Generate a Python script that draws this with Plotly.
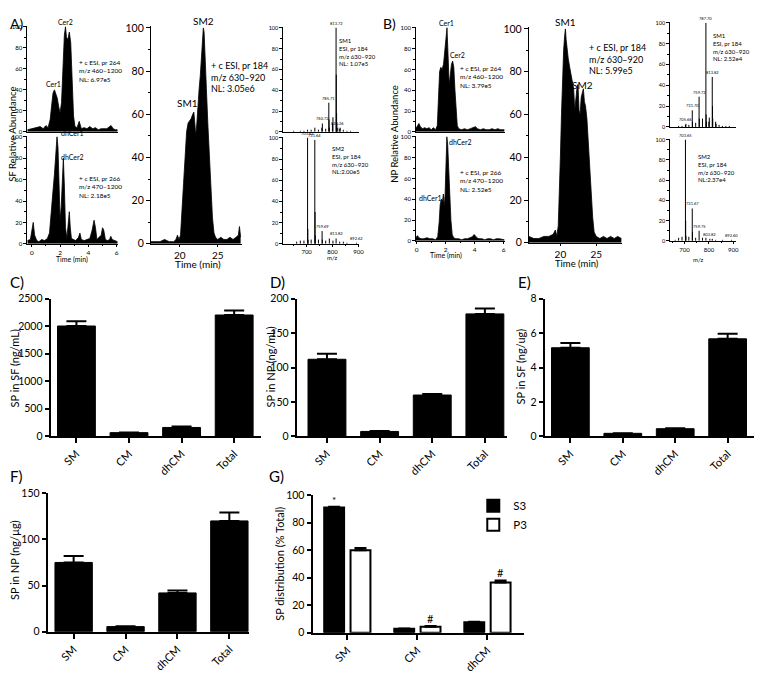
import plotly.graph_objects as go

W, H = 762, 675
OFF = 8  # page body margin: the figure is drawn 8 px in from the window corner
FW, FH = W - OFF, H - OFF
FONT = "Lato"

# ---------------- chromatograms (time in min, relative abundance) ----------------
SF_CER_T = [-0.3, 0.0, 0.2, 0.4, 0.6, 0.8, 1.0, 1.15, 1.3, 1.4, 1.5, 1.6, 1.7, 1.8, 1.9, 2.0, 2.1, 2.2,
            2.3, 2.38, 2.45, 2.55, 2.65, 2.75, 2.85, 2.95, 3.05, 3.2, 3.35, 3.5, 3.7, 3.9, 4.1, 4.3, 4.5,
            4.7, 4.9, 5.1, 5.3, 5.5, 5.6, 5.75, 5.9, 6.05]
SF_CER_Y = [2, 3, 3, 4, 5, 3, 6, 4, 12, 25, 37, 40, 36, 32, 24, 18, 28, 62, 92, 100, 90, 88, 95, 85,
            45, 15, 5, 4, 10, 3, 4, 3, 5, 3, 4, 2, 3, 3, 3, 5, 6, 3, 2, 2]

SF_DH_T = [-0.3, -0.1, 0.0, 0.1, 0.2, 0.35, 0.5, 0.7, 0.9, 1.1, 1.25, 1.4, 1.5, 1.6, 1.7, 1.78, 1.85,
           1.92, 2.0, 2.08, 2.16, 2.23, 2.3, 2.38, 2.48, 2.58, 2.65, 2.72, 2.8, 2.95, 3.1, 3.3, 3.4, 3.5,
           3.7, 3.9, 4.1, 4.25, 4.4, 4.5, 4.6, 4.75, 4.9, 5.0, 5.08, 5.2, 5.35, 5.5, 5.58, 5.68, 5.85, 6.05]
SF_DH_Y = [3, 4, 12, 20, 8, 3, 2, 4, 3, 5, 10, 30, 50, 65, 85, 100, 90, 55, 22, 35, 70, 80, 55, 15, 5,
           22, 30, 15, 5, 4, 3, 6, 10, 4, 3, 4, 5, 12, 22, 15, 4, 6, 8, 15, 13, 4, 3, 4, 7, 4, 3, 2]

SF_SM_T = [16.2, 16.8, 17.4, 18.0, 18.6, 19.2, 19.5, 19.7, 19.9, 20.1, 20.3, 20.5, 20.7, 20.9, 21.1,
           21.3, 21.5, 21.7, 21.85, 22.0, 22.1, 22.25, 22.4, 22.55, 22.7, 22.85, 23.0, 23.1, 23.2, 23.35,
           23.5, 23.7, 23.9, 24.1, 24.3, 24.5, 24.7, 25.0, 25.4, 25.8, 26.2, 26.6, 27.0, 27.4, 27.7,
           27.85, 28.0]
SF_SM_Y = [1, 1, 1, 2, 1, 1, 2, 4, 2, 4, 14, 28, 40, 52, 56, 57, 58, 60, 61, 55, 50, 56, 66, 72, 78, 85,
           93, 100, 98, 88, 72, 55, 40, 25, 12, 5, 3, 2, 3, 2, 2, 3, 2, 3, 4, 8, 3]

NP_CER_T = [-0.07, 0.05, 0.15, 0.25, 0.4, 0.55, 0.7, 0.85, 1.0, 1.15, 1.3, 1.42, 1.5, 1.58, 1.66, 1.75,
            1.85, 1.95, 2.02, 2.09, 2.16, 2.24, 2.32, 2.4, 2.48, 2.56, 2.64, 2.72, 2.8, 2.9, 3.1, 3.3,
            3.5, 3.7, 3.9, 4.05, 4.2, 4.4, 4.6, 4.8, 5.0, 5.2, 5.4, 5.6, 5.8, 6.05]
NP_CER_Y = [3, 6, 8, 5, 3, 4, 3, 4, 2, 4, 2, 6, 30, 58, 62, 60, 65, 80, 92, 100, 75, 45, 55, 65, 68, 62,
            40, 15, 6, 3, 2, 3, 2, 3, 4, 5, 3, 2, 3, 2, 2, 3, 2, 3, 2, 2]

NP_DH_T = [-0.07, 0.05, 0.15, 0.3, 0.5, 0.7, 0.9, 1.1, 1.3, 1.45, 1.55, 1.62, 1.7, 1.78, 1.84, 1.9,
           1.96, 2.02, 2.08, 2.14, 2.2, 2.28, 2.36, 2.45, 2.55, 2.7, 2.9, 3.1, 3.3, 3.5, 3.7, 3.85, 3.95,
           4.05, 4.15, 4.3, 4.5, 4.7, 4.9, 5.1, 5.3, 5.5, 5.7, 5.9, 6.05]
NP_DH_Y = [3, 5, 3, 2, 2, 3, 2, 2, 1, 4, 18, 35, 40, 38, 45, 32, 45, 75, 100, 92, 70, 45, 20, 6, 3, 2, 2,
           1, 2, 2, 3, 4, 6, 5, 3, 2, 2, 1, 2, 2, 1, 2, 2, 1, 1]

NP_SM_T = [15.6, 16.3, 17.0, 17.7, 18.4, 19.0, 19.3, 19.5, 19.7, 19.85, 20.0, 20.15, 20.3, 20.45, 20.6,
           20.7, 20.8, 20.95, 21.1, 21.3, 21.5, 21.7, 21.85, 22.0, 22.15, 22.3, 22.45, 22.6, 22.75, 22.9,
           23.05, 23.2, 23.35, 23.5, 23.7, 23.9, 24.1, 24.3, 24.5, 24.7, 25.0, 25.5, 26.0, 26.5, 27.0,
           27.5, 28.0, 28.5]
NP_SM_Y = [3, 2, 2, 3, 3, 4, 6, 3, 8, 20, 40, 60, 78, 90, 97, 100, 95, 90, 86, 82, 78, 74, 72, 62, 68,
           72, 74, 62, 60, 68, 70, 72, 66, 64, 58, 45, 32, 22, 12, 5, 3, 2, 3, 2, 3, 2, 3, 2]

# ---------------- mass spectra (m/z, relative abundance) ----------------
SF_SM1_MZ = [650, 675.6, 689.6, 703.6, 717.6, 731.7, 745.6, 758.7, 760.72, 773.7, 785.71, 786.7, 787.7,
             799.7, 801.7, 813.72, 814.7, 815.7, 816.7, 820.26, 827.7, 829.7, 841.7, 855.7, 869.7]
SF_SM1_I = [1, 1, 1, 2, 2, 4, 2, 4, 8, 3, 28, 12, 4, 8, 14, 100, 55, 18, 8, 4, 3, 4, 2, 1, 1]
SF_SM1_LABELS = ["813.72", "785.71", "760.72", "820.26"]

SF_SM2_MZ = [661.6, 675.6, 689.6, 703.62, 704.6, 705.6, 717.6, 731.64, 732.6, 733.6, 745.6, 759.69,
             760.7, 773.7, 787.7, 801.7, 813.82, 827.7, 841.7, 855.7, 892.62]
SF_SM2_I = [2, 3, 3, 100, 14, 4, 4, 98, 30, 8, 4, 12, 4, 3, 5, 3, 5, 2, 2, 1, 1]
SF_SM2_LABELS = ["703.62", "731.64", "759.69", "813.82", "892.62"]

NP_SM1_MZ = [675.6, 689.6, 703.6, 705.66, 717.6, 731.70, 732.7, 745.7, 759.72, 760.7, 773.7, 787.70,
             788.7, 789.7, 799.7, 801.7, 813.82, 814.8, 815.8, 827.7, 829.7, 841.7, 855.7, 869.7, 883.7]
NP_SM1_I = [1, 1, 2, 3, 2, 16, 5, 4, 29, 8, 8, 100, 12, 5, 5, 9, 48, 20, 8, 5, 3, 2, 1, 1, 1]
NP_SM1_LABELS = ["787.70", "813.82", "759.72", "731.70", "705.66"]

NP_SM2_MZ = [661.6, 675.6, 689.6, 703.65, 704.6, 705.6, 717.6, 731.67, 732.6, 745.6, 759.75, 773.7,
             787.7, 803.82, 813.8, 827.7, 855.7, 892.60]
NP_SM2_I = [1, 3, 4, 100, 20, 5, 4, 32, 9, 3, 10, 3, 3, 2, 2, 1, 1, 1]
NP_SM2_LABELS = ["703.65", "731.67", "759.75", "803.82", "892.60"]

# ---------------- bar panels ----------------
CATS = ["SM", "CM", "dhCM", "Total"]
C_VALS = [2005, 66, 160, 2205]
C_ERR = [85, 4, 18, 80]
D_VALS = [112, 7, 60, 178]
D_ERR = [8, 0.6, 1.5, 8]
E_VALS = [5.15, 0.17, 0.44, 5.67]
E_ERR = [0.27, 0.01, 0.03, 0.3]
F_VALS = [75, 5.5, 42, 120]
F_ERR = [7, 0.5, 2.5, 9]

G_CATS = ["SM", "CM", "dhCM"]
G_S3 = [91, 2.8, 7.5]
G_S3_ERR = [0.6, 0.2, 0.4]
G_P3 = [60, 4.3, 36.5]
G_P3_ERR = [1.6, 0.6, 1.5]
G_MARKS = [("*", "S3", 0), ("#", "P3", 1), ("#", "P3", 2)]


# pixel positions below are window pixels; convert to paper fractions of the shifted figure
def px_x(px):
    return max(px - OFF, 0) / FW


def px_y(py):
    return 1 - max(py - OFF, 0) / FH


def xdom(a, b):
    return [px_x(a), min(px_x(b), 1)]


def ydom(top, bottom):
    return [px_y(bottom), px_y(top)]


fig = go.Figure()
layout = {}
annotations = []


def set_axes(n, xpx, ypx, xrange, yrange, xopts=None, yopts=None):
    sx = "" if n == 1 else str(n)
    base = dict(showline=True, linecolor="black", linewidth=1, ticks="outside", tickcolor="black",
                showgrid=False, zeroline=False, fixedrange=True, tickfont=dict(family=FONT, color="black"))
    xa = dict(base, domain=xdom(*xpx), range=xrange, anchor="y" + sx)
    ya = dict(base, domain=ydom(*ypx), range=yrange, anchor="x" + sx)
    xa.update(xopts or {})
    ya.update(yopts or {})
    layout["xaxis" + sx] = xa
    layout["yaxis" + sx] = ya
    return "x" + sx, "y" + sx


def note(text, px, py, size, xanchor="left", yanchor="top", angle=0, align="left"):
    annotations.append(dict(text=text, x=px_x(px), y=px_y(py), xref="paper", yref="paper",
                            xanchor=xanchor, yanchor=yanchor, align=align, showarrow=False,
                            textangle=angle, borderpad=0,
                            font=dict(size=size, color="black", family=FONT)))


def dnote(text, x, y, xr, yr, size, xanchor="center", yanchor="bottom"):
    annotations.append(dict(text=text, x=x, y=y, xref=xr, yref=yr, xanchor=xanchor, yanchor=yanchor,
                            showarrow=False, borderpad=0,
                            font=dict(size=size, color="black", family=FONT)))


def chrom(t, y, xr, yr):
    fig.add_trace(go.Scatter(x=t, y=y, mode="lines", line=dict(color="black", width=0.8),
                             fill="tozeroy", fillcolor="black", xaxis=xr, yaxis=yr,
                             showlegend=False, hoverinfo="skip"))


def spectrum(mz, inten, labels, xr, yr):
    xs, ys = [], []
    for m, v in zip(mz, inten):
        xs += [m, m, None]
        ys += [0, v, None]
    fig.add_trace(go.Scatter(x=xs, y=ys, mode="lines", line=dict(color="black", width=1),
                             xaxis=xr, yaxis=yr, showlegend=False, hoverinfo="skip"))
    for m, v in zip(mz, inten):
        if f"{m:.2f}" in labels:
            dnote(f"{m:.2f}", m, v + 1, xr, yr, 4)


chrom_y = dict(tickmode="linear", tick0=0, dtick=20, ticklen=2.5, tickfont=dict(size=6, family=FONT),
               minor=dict(ticks="outside", dtick=10, ticklen=1.5, tickcolor="black"))
chrom_top_x = dict(showticklabels=False, ticks="")
chrom_bot_x = dict(tickmode="linear", tick0=0, dtick=2, ticklen=2, tickfont=dict(size=6.5, family=FONT),
                   minor=dict(ticks="outside", dtick=1, ticklen=1.5, tickcolor="black"))
sm_y = dict(tickmode="linear", tick0=0, dtick=20, ticklen=4, tickfont=dict(size=10.5, family=FONT),
            minor=dict(ticks="outside", dtick=10, ticklen=2, tickcolor="black"))
sm_x = dict(tickvals=[20, 25], ticklen=2, tickfont=dict(size=10, family=FONT))
spec_y = dict(tickmode="linear", tick0=0, dtick=20, ticklen=2.5, tickfont=dict(size=5.5, family=FONT),
              minor=dict(ticks="outside", dtick=10, ticklen=1.5, tickcolor="black"))
spec_top_x = dict(showticklabels=False, ticks="")
spec_bot_x = dict(tickvals=[700, 800, 900], ticklen=2.5, tickfont=dict(size=6, family=FONT),
                  minor=dict(ticks="outside", tickvals=[650, 750, 850], ticklen=1.5, tickcolor="black"))

# ---------------- panel A (SF) ----------------
xa, ya = set_axes(1, (26, 118), (20, 128), [-0.35, 6.1], [0, 101], chrom_top_x, chrom_y)
chrom(SF_CER_T, SF_CER_Y, xa, ya)
dnote("Cer2", 2.38, 100, xa, ya, 7)
dnote("Cer1", 1.5, 41, xa, ya, 7)
xa, ya = set_axes(2, (26, 118), (132, 242), [-0.35, 6.1], [0, 101], chrom_bot_x, chrom_y)
chrom(SF_DH_T, SF_DH_Y, xa, ya)
xa, ya = set_axes(3, (151, 243), (20, 242), [16.2, 28.2], [0, 101], sm_x, sm_y)
chrom(SF_SM_T, SF_SM_Y, xa, ya)
dnote("SM2", 23.1, 100, xa, ya, 10)
dnote("SM1", 21.0, 62, xa, ya, 10)
xa, ya = set_axes(4, (284, 361), (21, 128), [608, 903], [0, 101], spec_top_x, spec_y)
spectrum(SF_SM1_MZ, SF_SM1_I, SF_SM1_LABELS, xa, ya)
xa, ya = set_axes(5, (284, 361), (133, 242), [608, 903], [0, 101], spec_bot_x, spec_y)
spectrum(SF_SM2_MZ, SF_SM2_I, SF_SM2_LABELS, xa, ya)

note("A)", 4, 0, 14)
note("SF Relative Abundance", 12, 130, 9.5, xanchor="center", yanchor="middle", angle=-90)
note("dhCer1", 59, 129, 7, yanchor="middle")
note("dhCer2", 59, 154, 7, yanchor="middle")
note("+ c ESI, pr 264<br>m/z 460–1200<br>NL: 6.97e5", 78, 53, 6.5)
note("+ c ESI, pr 266<br>m/z 470–1200<br>NL: 2.18e5", 78, 171, 6.5)
note("Time (min)", 72, 258, 7, xanchor="center", yanchor="middle")
note("+ c ESI, pr 184<br>m/z 630–920<br>NL: 3.05e6", 211, 54, 9)
note("Time (min)", 199, 263, 10, xanchor="center", yanchor="middle")
note("SM1<br>ESI, pr 184<br>m/z 630–920<br>NL: 1.07e5", 340, 30, 6)
note("SM2<br>ESI, pr 184<br>m/z 630–920<br>NL:2.00e5", 333, 140, 6)
note("m/z", 334, 256, 6, xanchor="center", yanchor="middle")

# ---------------- panel B (NP) ----------------
xa, ya = set_axes(6, (418, 508), (21, 128), [-0.07, 6.1], [0, 101], chrom_top_x, chrom_y)
chrom(NP_CER_T, NP_CER_Y, xa, ya)
dnote("Cer1", 2.09, 100, xa, ya, 7)
xa, ya = set_axes(7, (418, 508), (132, 239), [-0.07, 6.1], [0, 101], chrom_bot_x, chrom_y)
chrom(NP_DH_T, NP_DH_Y, xa, ya)
xa, ya = set_axes(8, (532, 626), (21, 241), [15.6, 28.6], [0, 101], sm_x, sm_y)
chrom(NP_SM_T, NP_SM_Y, xa, ya)
dnote("SM1", 20.7, 100, xa, ya, 10)
xa, ya = set_axes(9, (674, 741), (16, 123), [639, 912], [0, 101], spec_top_x, spec_y)
spectrum(NP_SM1_MZ, NP_SM1_I, NP_SM1_LABELS, xa, ya)
xa, ya = set_axes(10, (674, 741), (135, 239), [639, 912], [0, 101], spec_bot_x, spec_y)
spectrum(NP_SM2_MZ, NP_SM2_I, NP_SM2_LABELS, xa, ya)

note("B)", 384, 0, 14)
note("NP Relative Abundance", 397, 130, 9.5, xanchor="center", yanchor="middle", angle=-90)
note("Cer2", 452, 50, 7, yanchor="middle")
note("dhCer2", 451, 138, 7, yanchor="middle")
note("dhCer1", 420, 195, 7, yanchor="middle")
note("SM2", 586, 80, 10, xanchor="center", yanchor="middle")
note("+ c ESI, pr 264<br>m/z 460–1200<br>NL: 3.79e5", 462, 59, 6.5)
note("+ c ESI, pr 266<br>m/z 470–1200<br>NL: 2.52e5", 462, 165, 6.5)
note("Time (min)", 449, 254, 7, xanchor="center", yanchor="middle")
note("+ c ESI, pr 184<br>m/z 630–920<br>NL: 5.99e5", 592, 35, 9)
note("Time (min)", 581, 262, 9.5, xanchor="center", yanchor="middle")
note("SM1<br>ESI, pr 184<br>m/z 630–920<br>NL: 2.52e4", 717, 25, 6)
note("SM2<br>ESI, pr 184<br>m/z 630–920<br>NL:2.37e4", 702, 149, 6)
note("m/z", 703, 258, 6, xanchor="center", yanchor="middle")

# ---------------- bar panels C-F ----------------
bar_x = dict(tickvals=list(range(len(CATS))), ticktext=CATS, tickangle=-45, linewidth=2, ticklen=5,
             tickwidth=1.5, tickfont=dict(size=11, family=FONT))
bar_y = dict(linewidth=2, ticklen=4, tickwidth=1.5, tickfont=dict(size=10.5, family=FONT), tickmode="linear",
             tick0=0)


def bars(n, xpx, ypx, xrange, yrange, dtick, vals, err, ylabel, lx, ly, letter, letter_xy):
    xa, ya = set_axes(n, xpx, ypx, xrange, yrange, bar_x, dict(bar_y, dtick=dtick))
    fig.add_trace(go.Bar(x=list(range(len(vals))), y=vals, width=0.72, marker=dict(color="black",
                         line=dict(color="black", width=1)), xaxis=xa, yaxis=ya, showlegend=False,
                         error_y=dict(type="data", symmetric=False, array=err, arrayminus=[0] * len(err),
                                      color="black", thickness=2, width=10)))
    note(ylabel, lx, ly, 11, xanchor="center", yanchor="middle", angle=-90)
    note(letter, letter_xy[0], letter_xy[1], 15)


bars(11, (50, 262), (298, 438), [-0.49, 3.51], [0, 2500], 500, C_VALS, C_ERR,
     "SP in SF (ng/mL)", 14, 369, "C)", (4, 271))
bars(12, (298, 510), (298, 438), [-0.575, 3.42], [0, 200], 50, D_VALS, D_ERR,
     "SP in NP (ng/mL)", 272, 367, "D)", (270, 271))
bars(13, (548, 762), (298, 438), [-0.49, 3.56], [0, 8], 2, E_VALS, E_ERR,
     "SP in SF (ng/ug)", 524, 367, "E)", (520, 271))
bars(14, (47, 250), (496, 637), [-0.5, 3.38], [0, 150], 50, F_VALS, F_ERR,
     "SP in NP (ng/µg)", 14, 564, "F)", (3, 468))

# ---------------- panel G ----------------
xa, ya = set_axes(15, (314, 527), (498, 638), [-0.496, 2.52], [0, 100],
                  dict(bar_x, tickvals=list(range(len(G_CATS))), ticktext=G_CATS), dict(bar_y, dtick=20))
fig.add_trace(go.Bar(x=list(range(len(G_CATS))), y=G_S3, name="S3", width=0.284, offset=-0.33,
                     marker=dict(color="black", line=dict(color="black", width=2)), xaxis=xa, yaxis=ya,
                     error_y=dict(type="data", symmetric=False, array=G_S3_ERR, arrayminus=[0] * 3,
                                  color="black", thickness=2, width=6)))
fig.add_trace(go.Bar(x=list(range(len(G_CATS))), y=G_P3, name="P3", width=0.284, offset=0.046,
                     marker=dict(color="white", line=dict(color="black", width=2)), xaxis=xa, yaxis=ya,
                     error_y=dict(type="data", symmetric=False, array=G_P3_ERR, arrayminus=[0] * 3,
                                  color="black", thickness=2, width=6)))
for sym, grp, i in G_MARKS:
    vals, errs, shift = (G_S3, G_S3_ERR, -0.188) if grp == "S3" else (G_P3, G_P3_ERR, 0.188)
    dnote(sym, i + shift, vals[i] + errs[i], xa, ya, 11 if sym == "#" else 10)
note("SP distribution (% Total)", 281, 568, 11, xanchor="center", yanchor="middle", angle=-90)
note("G)", 269, 468, 15)

layout.update(
    width=FW, height=FH, margin=dict(l=0, r=0, t=0, b=0), autosize=False,
    plot_bgcolor="white", paper_bgcolor="white", showlegend=True, barmode="overlay",
    font=dict(family=FONT, color="black"),
    legend=dict(x=px_x(476), y=px_y(494), xanchor="left", yanchor="top", bgcolor="rgba(0,0,0,0)",
                font=dict(size=11.5, family=FONT), tracegroupgap=0),
    annotations=annotations,
)
fig.update_layout(**layout)

fig.write_html("out.html")
